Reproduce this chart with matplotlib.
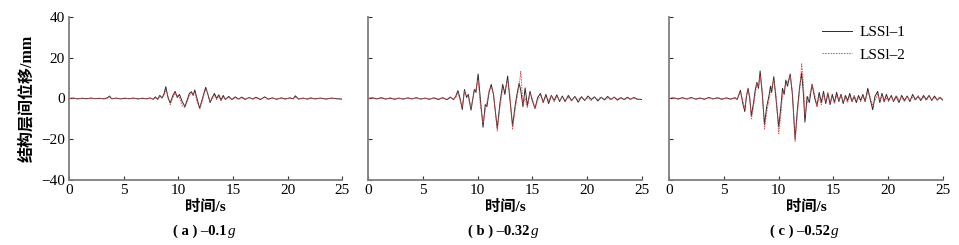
import matplotlib
matplotlib.use("Agg")
import matplotlib.pyplot as plt
from matplotlib.lines import Line2D

plt.rcParams['font.family'] = ['Liberation Serif', 'Noto Sans CJK SC']

# ---------------- data (time in s, displacement in mm) ----------------
t_a = [0, 0.4, 0.8, 1.2, 1.6, 2.0, 2.4, 2.8, 3.2, 3.5,
       3.7, 3.9, 4.3, 4.7, 5.1, 5.5, 5.9, 6.3, 6.7, 7.1,
       7.4, 7.7, 7.9, 8.1, 8.3, 8.5, 8.7, 8.85, 9.05, 9.25,
       9.5, 9.7, 9.9, 10.1, 10.35, 10.6, 10.85, 11.0, 11.2, 11.35,
       11.5, 11.7, 11.95, 12.2, 12.5, 12.7, 12.9, 13.1, 13.3, 13.5,
       13.7, 13.9, 14.1, 14.3, 14.6, 14.9, 15.2, 15.5, 15.8, 16.1,
       16.5, 16.8, 17.1, 17.5, 17.9, 18.2, 18.6, 19.0, 19.4, 19.8,
       20.2, 20.5, 20.7, 21.0, 21.4, 21.8, 22.1, 22.5, 23.0, 23.5,
       24.0, 24.5, 25.0]
lssl1_a = [0, 0.2, -0.2, 0.1, -0.1, 0.2, -0.1, 0.1, -0.2, 0.3,
           1.2, -0.2, 0.2, -0.2, 0.1, -0.1, 0.2, -0.2, 0.1, -0.2,
           0.3, -0.4, 0.8, -0.4, 1.5, 0.2, 2.5, 5.8, 0.5, -2.2,
           1.5, 3.5, 0.5, 2.0, -1.5, -4.0, 0.0, 2.5, 3.3, 1.5,
           4.2, 0.0, -4.8, 0.0, 5.5, 2.0, -2.0, 0.5, 2.5, 0.0,
           1.8, -0.8, 1.5, -0.5, 1.0, -0.5, 0.8, -0.3, 0.7, -0.4,
           0.5, -0.3, 0.6, -0.5, 0.8, -0.3, 0.3, -0.4, 0.3, -0.2,
           0.3, -0.2, 1.3, -0.3, 0.2, -0.3, 0.3, -0.2, 0.2, -0.3,
           0.2, -0.1, -0.3]
lssl2_a = [0, 0.1, -0.1, 0.2, -0.2, 0.1, 0.0, -0.1, 0.1, 0.2,
           0.8, -0.1, 0.1, -0.1, 0.2, -0.1, 0.1, -0.2, 0.2, -0.1,
           0.1, -0.2, 0.3, -0.6, 1.0, 0.5, 1.5, 4.0, 1.0, -3.0,
           0.5, 2.5, 1.5, 0.5, -3.5, -4.5, -1.0, 1.5, 2.5, 2.0,
           3.0, -1.5, -5.3, -1.0, 4.5, 2.5, -1.5, -0.5, 1.5, -0.5,
           1.0, -1.0, 0.8, -0.3, 0.5, -0.6, 0.4, -0.4, 0.3, -0.5,
           0.4, -0.2, 0.3, -0.3, 0.5, -0.4, 0.2, -0.3, 0.2, -0.3,
           0.2, 0.0, 0.6, -0.2, 0.1, -0.2, 0.1, -0.2, 0.1, -0.2,
           0.1, -0.2, -0.2]

t_b = [0, 0.4, 0.8, 1.2, 1.6, 2.0, 2.4, 2.8, 3.2, 3.6,
       4.0, 4.4, 4.8, 5.2, 5.6, 6.0, 6.4, 6.8, 7.2, 7.5,
       7.8, 8.0, 8.2, 8.4, 8.6, 8.8, 9.0, 9.15, 9.4, 9.7,
       9.85, 10.05, 10.25, 10.5, 10.7, 10.85, 11.05, 11.25, 11.45, 11.8,
       12.05, 12.3, 12.5, 12.75, 12.95, 13.2, 13.45, 13.6, 13.8, 13.95,
       14.15, 14.35, 14.55, 14.8, 15.0, 15.25, 15.5, 15.75, 16.0, 16.25,
       16.5, 16.75, 17.0, 17.25, 17.5, 17.75, 18.0, 18.3, 18.6, 18.9,
       19.2, 19.5, 19.8, 20.1, 20.4, 20.7, 21.0, 21.3, 21.6, 21.9,
       22.2, 22.5, 22.8, 23.1, 23.4, 23.7, 24.0, 24.3, 24.6, 25.0]
lssl1_b = [0, 0.3, -0.2, 0.4, -0.3, 0.2, -0.4, 0.2, -0.3, 0.3,
           -0.2, 0.4, -0.3, 0.2, -0.4, 0.3, -0.5, 0.4, -0.6, 0.7,
           -0.5, 1.0, 3.9, 0.0, -5.4, 4.4, 0.5, 2.0, -5.7, 4.4,
           3.0, 12.0, 0.0, -14.1, -3.0, -4.0, 3.0, 6.9, 2.0, -14.6,
           -2.0, 6.9, 2.0, 11.0, 0.0, -13.3, -3.0, 2.0, 7.5, 4.0,
           -4.0, 5.2, -3.5, 3.5, -1.0, -4.9, 0.5, 2.5, -2.0, 2.0,
           -2.5, 1.5, -1.0, 1.8, -1.5, 1.2, -1.5, 1.5, -1.0, 1.0,
           -1.8, 0.8, -1.0, 1.2, -0.5, 0.8, -1.2, 0.6, -0.6, 1.0,
           -0.5, 0.7, -0.8, 0.4, -0.5, 0.6, -0.4, 0.5, -0.3, -0.5]
lssl2_b = [0, 0.2, -0.1, 0.2, -0.2, 0.3, -0.2, 0.1, -0.3, 0.2,
           -0.1, 0.2, -0.3, 0.1, -0.2, 0.3, -0.3, 0.2, -0.5, 0.4,
           -0.3, 0.5, 3.0, -1.0, -4.0, 3.5, 1.5, 0.5, -4.5, 3.5,
           4.5, 9.0, -3.0, -12.0, -6.0, -2.0, 4.0, 5.5, 3.0, -16.0,
           -4.0, 5.0, 4.0, 9.0, 2.0, -15.0, -5.0, 0.0, 6.0, 13.3,
           -3.0, 0.0, -4.5, 2.5, 0.0, -4.9, -1.0, 2.0, -1.5, 1.0,
           -1.0, 1.5, -1.5, 0.8, -1.0, 1.0, -0.8, 0.5, -1.2, 0.8,
           -0.6, 1.0, -0.8, 0.4, -1.0, 0.6, -0.4, 0.8, -0.9, 0.3,
           -0.6, 0.5, -0.4, 0.6, -0.8, 0.3, -0.5, 0.3, -0.5, -0.3]

t_c = [0, 0.4, 0.8, 1.2, 1.6, 2.0, 2.4, 2.8, 3.2, 3.6,
       4.0, 4.4, 4.8, 5.2, 5.6, 6.0, 6.2, 6.5, 6.7, 6.9,
       7.05, 7.2, 7.35, 7.5, 7.7, 7.85, 8.0, 8.15, 8.3, 8.5,
       8.7, 8.9, 9.1, 9.25, 9.35, 9.55, 9.75, 10.0, 10.2, 10.35,
       10.5, 10.65, 10.8, 11.05, 11.25, 11.5, 11.7, 11.9, 12.1, 12.25,
       12.4, 12.6, 12.8, 13.05, 13.3, 13.5, 13.7, 13.9, 14.1, 14.3,
       14.5, 14.7, 14.9, 15.1, 15.3, 15.5, 15.7, 15.9, 16.1, 16.3,
       16.5, 16.7, 16.9, 17.1, 17.3, 17.5, 17.7, 17.9, 18.15, 18.35,
       18.6, 18.8, 19.05, 19.25, 19.45, 19.65, 19.85, 20.05, 20.3, 20.5,
       20.75, 21.0, 21.25, 21.5, 21.75, 22.0, 22.25, 22.5, 22.75, 23.0,
       23.25, 23.5, 23.75, 24.0, 24.25, 24.5, 24.75, 25.0]
lssl1_c = [0, 0.3, -0.2, 0.4, -0.3, 0.5, -0.3, 0.2, -0.4, 0.5,
           -0.2, 0.3, -0.4, 0.3, -0.3, 0.4, -0.5, 4.0, -2.0, -6.4,
           1.0, 5.0, 0.0, -8.5, -2.0, 4.0, 7.9, 5.0, 13.5, 2.0,
           -12.8, -4.0, 1.0, 6.0, 3.0, 10.7, 0.0, -14.0, -4.0, 5.0,
           2.0, 9.0, 6.0, 12.0, 2.0, -20.0, -6.0, 5.0, 12.5, 3.0,
           -11.6, 1.0, -2.0, 7.0, 0.0, -3.6, 3.0, -2.0, 3.5, -2.5,
           2.5, -3.0, 2.0, -2.0, 3.0, -1.5, 2.0, -2.5, 1.5, -1.0,
           2.5, -1.5, 1.0, -2.0, 1.5, -1.0, 2.0, -1.5, 5.0, 0.0,
           -5.5, 1.0, 3.5, -2.0, 2.5, -1.5, 2.0, -1.0, 1.5, -1.5,
           1.0, -2.0, 1.5, -1.0, 1.2, -1.5, 2.0, -0.5, 1.0, -1.0,
           1.5, -0.5, 1.5, -1.0, 1.2, -0.8, 0.5, -0.8]
lssl2_c = [0, 0.2, -0.3, 0.2, -0.1, 0.3, -0.4, 0.3, -0.2, 0.3,
           -0.3, 0.5, -0.2, 0.2, -0.4, 0.2, -0.3, 3.0, -1.0, -5.0,
           2.0, 4.0, 1.0, -10.0, -4.0, 2.0, 7.0, 6.0, 11.0, 4.0,
           -15.0, -7.0, -1.0, 4.0, 5.0, 9.0, 2.0, -17.3, -8.0, 2.0,
           4.0, 7.0, 8.0, 11.0, 4.0, -21.0, -8.0, 3.0, 17.0, 8.0,
           -8.0, -2.0, 1.0, 6.5, 2.0, -4.0, 1.0, -3.0, 2.0, -1.5,
           3.0, -2.0, 1.0, -2.5, 1.5, -1.0, 2.0, -1.5, 0.5, -2.0,
           1.0, -1.0, 1.5, -1.0, 0.5, -1.5, 1.0, -1.0, 3.0, 1.0,
           -3.5, -1.0, 2.0, -1.0, 1.5, -2.0, 0.5, -1.5, 1.0, -1.0,
           1.5, -0.5, 0.5, -1.5, 0.8, -0.5, 0.5, -1.0, 1.5, -0.5,
           0.5, -1.0, 1.0, -0.5, 0.3, -0.6, 0.8, -0.4]

caption_labels = ["( a ) \u20130.1", "( b ) \u20130.32", "( c ) \u20130.52"]
caption_unit = "g"
series_names = ["LSSl\u20131", "LSSl\u20132"]
x_ticks = [0, 5, 10, 15, 20, 25]
y_ticks = [-40, -20, 0, 20, 40]

panels = [(t_a, lssl1_a, lssl2_a), (t_b, lssl1_b, lssl2_b), (t_c, lssl1_c, lssl2_c)]

# ---------------- figure ----------------
fig = plt.figure(figsize=(9.59, 2.45), dpi=100)
lefts = [0.072, 0.384, 0.698]
width = 0.285
bottom, height = 0.265, 0.666
spine_col = '#7f7f7f'
black_col = '#2b2b2b'
red_col = '#e0454a'
red_ls = (0, (2, 1.2))

renderer = fig.canvas.get_renderer()
for i, (t, s1, s2) in enumerate(panels):
    ax = fig.add_axes([lefts[i], bottom, width, height])
    ax.plot(t, s1, color=black_col, lw=0.7, zorder=2)
    ax.plot(t, s2, color=red_col, lw=0.6, ls=red_ls, zorder=3)
    ax.set_xlim(0, 25)
    ax.set_ylim(-40, 40)
    ax.set_xticks(x_ticks)
    ax.set_yticks(y_ticks)
    for sp in ['top', 'right']:
        ax.spines[sp].set_visible(False)
    for sp in ['left', 'bottom']:
        ax.spines[sp].set_color(spine_col)
        ax.spines[sp].set_linewidth(1.3)
    ax.tick_params(direction='in', length=3, width=0.8, color='#333333',
                   labelsize=11, pad=3)
    ax.set_xticklabels([str(v) for v in x_ticks])
    if i == 0:
        ax.set_yticklabels(['\u221240', '\u221220', '0', '20', '40'])
        ax.set_ylabel('结构层间位移/mm', fontsize=11.5, fontweight='bold', labelpad=4)
    else:
        ax.set_yticklabels([])
    ax.set_xlabel('时间/s', fontsize=11, fontweight='bold', labelpad=2)

    # caption: main text + italic g
    cx = lefts[i] + width / 2
    main = fig.text(cx - 0.006, 0.055, caption_labels[i], ha='center', va='center',
                    fontsize=10.5, fontweight='bold')
    bb = main.get_window_extent(renderer=renderer)
    fig.text(bb.x1 / fig.bbox.width + 0.001, 0.055, caption_unit, ha='left', va='center',
             fontsize=11, fontstyle='italic', family='Liberation Serif')

    if i == 2:
        handles = [Line2D([], [], color=black_col, lw=0.7),
                   Line2D([], [], color=red_col, lw=0.6, ls=red_ls)]
        ax.legend(handles, series_names, loc='upper right', frameon=False,
                  fontsize=11, handlelength=2.0, handletextpad=0.5,
                  labelspacing=0.55, bbox_to_anchor=(0.915, 1.03))

fig.savefig('out.png', dpi=100)
